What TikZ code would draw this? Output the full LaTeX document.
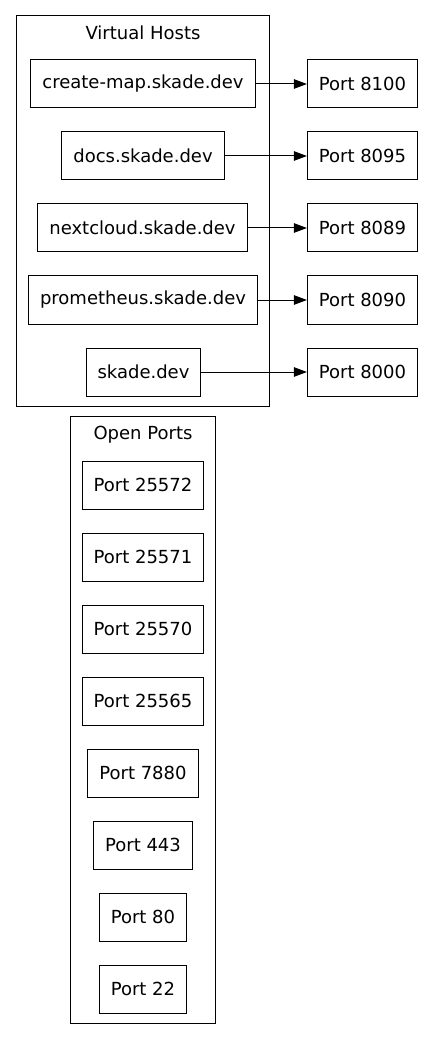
\documentclass[tikz,border=0pt]{standalone}
\usepackage{fontspec}
\setmainfont{DejaVu Sans}
\usetikzlibrary{arrows.meta}
\tikzset{box/.style={draw,line width=1pt,minimum height=48pt,inner xsep=11.5pt,font=\fontsize{18}{22}\selectfont},
cluster/.style={draw,line width=1pt,inner sep=0pt},
title/.style={inner sep=0pt,font=\fontsize{18}{22}\selectfont},
link/.style={line width=1pt,-{Triangle[length=13pt,width=9.5pt]}}}
\begin{document}
\begin{tikzpicture}[x=1pt,y=-1pt]
\useasboundingbox (0,0) rectangle (425,1040);
\node[cluster,minimum width=253.5pt,minimum height=390pt] (vhosts) at (142.75,211){};
\node[title] (vhtitle) at (143,33){Virtual Hosts};
\node[box] (createmap) at (143,84){create-map.skade.dev};
\node[box] (docs) at (143,156){docs.skade.dev};
\node[box] (nextcloud) at (142.5,228){nextcloud.skade.dev};
\node[box] (prometheus) at (143,300){prometheus.skade.dev};
\node[box] (skade) at (143.5,372){skade.dev};
\node[box] (p8100) at (362.5,84){Port 8100};
\node[box] (p8095) at (362.5,156){Port 8095};
\node[box] (p8089) at (362.5,228){Port 8089};
\node[box] (p8090) at (362.5,300){Port 8090};
\node[box] (p8000) at (362.5,372){Port 8000};
\draw[link] (createmap)--(p8100);
\draw[link] (docs)--(p8095);
\draw[link] (nextcloud)--(p8089);
\draw[link] (prometheus)--(p8090);
\draw[link] (skade)--(p8000);
\node[cluster,minimum width=145.7pt,minimum height=606.3pt] (openports) at (142.85,719.85){};
\node[title] (optitle) at (143,435){Open Ports};
\foreach \p [count=\i] in {25572,25571,25570,25565,7880,443,80,22}
  \node[box] (p\p) at (143,413+72*\i){Port \p};
\end{tikzpicture}
\end{document}
